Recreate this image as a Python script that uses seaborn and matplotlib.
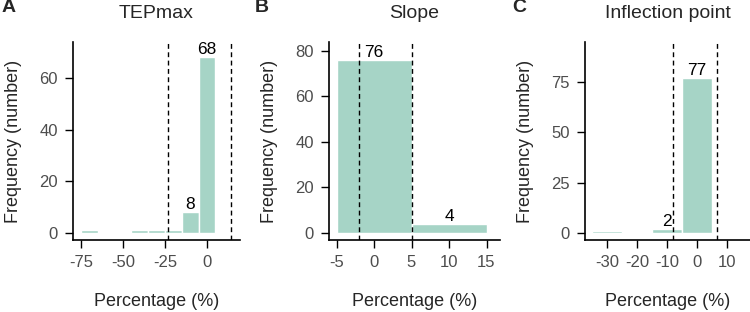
import matplotlib
matplotlib.use("Agg")
import matplotlib.pyplot as plt
import seaborn as sns

# Histogram data: bin midpoints (bin width 10) and counts
tep_mid = [-70, -60, -50, -40, -30, -20, -10, 0]
tep_counts = [1, 0, 0, 1, 1, 1, 8, 68]
tep_edges = [-75, -65, -55, -45, -35, -25, -15, -5, 5]
tep_cut = [-23, 14.2]

slope_mid = [0, 10]
slope_counts = [76, 4]
slope_edges = [-5, 5, 15]
slope_cut = [-2, 5.1]

infl_mid = [-30, -20, -10, 0]
infl_counts = [1, 0, 2, 77]
infl_edges = [-35, -25, -15, -5, 5]
infl_cut = [-8.2, 6.5]

panels = [
    ("A", "TEPmax", tep_mid, tep_counts, tep_edges, tep_cut,
     [-75, -50, -25, 0], [0, 20, 40, 60], (-79.8, 19.6), (-2.8, 73.9)),
    ("B", "Slope", slope_mid, slope_counts, slope_edges, slope_cut,
     [-5, 0, 5, 10, 15], [0, 20, 40, 60, 80], (-6.0, 16.8), (-3.2, 84)),
    ("C", "Inflection point", infl_mid, infl_counts, infl_edges, infl_cut,
     [-30, -20, -10, 0, 10], [0, 25, 50, 75], (-37.4, 17.6), (-3.6, 95)),
]

sns.set_style("ticks")
plt.rcParams['font.family'] = ['Liberation Sans', 'DejaVu Sans']
plt.rcParams['axes.unicode_minus'] = False

bar_color = "#a6d4c6"
fig = plt.figure(figsize=(7.5, 3.12), dpi=100)
lefts = [73, 329, 585]
widths = [167, 171, 165]

for i, (letter, title, mid, counts, edges, cut, xt, yt, xl, yl) in enumerate(panels):
    ax = fig.add_axes([lefts[i] / 750, 1 - 240 / 312, widths[i] / 750, 198 / 312])
    sns.histplot(x=mid, weights=counts, bins=edges, color=bar_color, alpha=1,
                 edgecolor="white", linewidth=1, ax=ax)
    for c in cut:
        ax.axvline(c, color="black", linestyle=(0, (3.5, 2.5)), linewidth=1)
    for m, n in zip(mid, counts):
        if n > 1:
            ax.text(m, n, str(n), ha="center", va="bottom", fontsize=12.5, color="black")
    ax.set_xlim(*xl)
    ax.set_ylim(*yl)
    ax.set_xticks(xt)
    ax.set_yticks(yt)
    ax.tick_params(length=6, width=1, pad=5, labelsize=12, labelcolor="#4d4d4d", color="black")
    for s in ["left", "bottom"]:
        ax.spines[s].set_linewidth(1.2)
        ax.spines[s].set_color("black")
    sns.despine(ax=ax)
    ax.set_xlabel("Percentage (%)", fontsize=13, labelpad=16)
    ax.set_ylabel("Frequency (number)", fontsize=13, labelpad=12)
    ax.set_title(title, fontsize=14, pad=17)
    fig.text((i * 250 + [2, 5, 12][i]) / 750, 1 - 8 / 312, letter,
             fontsize=14, fontweight="bold", va="center", ha="left")

fig.savefig("out.png", dpi=100)
